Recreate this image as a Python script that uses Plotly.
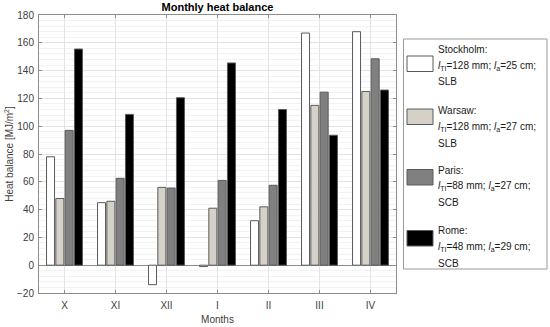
import plotly.graph_objects as go

# ---- data ----
months = ["X", "XI", "XII", "I", "II", "III", "IV"]
stockholm = [78, 45, -14, -1, 32, 167, 168]
warsaw = [48, 46, 56, 41, 42, 115, 125]
paris = [97, 62.5, 55.5, 61, 57.5, 124.5, 148.5]
rome = [155.5, 108.5, 120.5, 145.5, 112, 93.5, 126]

cities = ["Stockholm", "Warsaw", "Paris", "Rome"]
l_ti = [128, 128, 88, 48]
l_a = [25, 27, 27, 29]
bond = ["SLB", "SLB", "SCB", "SCB"]

series = [stockholm, warsaw, paris, rome]
colors = ["#ffffff", "#d5d1c8", "#808080", "#000000"]

FONT = "Liberation Sans, Arial, sans-serif"
W, H = 550, 327
L, R, T, B = 39, 396, 15, 293  # plot area in pixels


def px2x(px):
    return (px - L) / (R - L)


def py2y(py):
    return (B - py) / (B - T)


fig = go.Figure()
for name, vals, col in zip(cities, series, colors):
    fig.add_trace(go.Bar(
        x=months, y=vals, name=name, showlegend=False,
        marker=dict(color=col, line=dict(color="#5a5a5a", width=1)),
    ))

axis_common = dict(
    showline=True, linecolor="#8c8c8c", linewidth=1, mirror="ticks",
    ticks="inside", ticklen=3, tickcolor="#8c8c8c",
    tickfont=dict(family=FONT, size=10, color="#404040"),
    showgrid=True, gridcolor="#e3e3e3", gridwidth=1,
    automargin=False,
)

fig.update_xaxes(
    **axis_common,
    range=[-0.5, 6.5],
    ticklabelstandoff=3,
    title=dict(text="Months", font=dict(family=FONT, size=10, color="#404040"), standoff=5),
)
fig.update_yaxes(
    **axis_common,
    range=[-20, 180], dtick=20,
    ticklabelstandoff=2,
    zeroline=True, zerolinecolor="#8c8c8c", zerolinewidth=1,
    minor=dict(dtick=4, showgrid=True, gridcolor="#f2f2f2", gridwidth=1),
    title=dict(text="Heat balance [MJ/m<sup>2</sup>]",
               font=dict(family=FONT, size=10, color="#404040"), standoff=1),
)

shapes = []
annotations = []

# custom legend box
shapes.append(dict(type="rect", xref="paper", yref="paper",
                   x0=px2x(403.5), x1=px2x(547), y0=py2y(39), y1=py2y(269),
                   line=dict(color="#9a9a9a", width=1), fillcolor="white", layer="above"))

line1_y = [49, 110.5, 170, 230.5]
swatch_top = [56, 109, 169.5, 230.5]
for i, name in enumerate(cities):
    shapes.append(dict(type="rect", xref="paper", yref="paper",
                       x0=px2x(407), x1=px2x(433),
                       y0=py2y(swatch_top[i]), y1=py2y(swatch_top[i] + 15.5),
                       fillcolor=colors[i], line=dict(color="#5a5a5a", width=1),
                       layer="above"))
    lines = [
        f"{name}:",
        f"<i>l</i><sub>TI</sub>={l_ti[i]} mm; <i>l</i><sub>a</sub>={l_a[i]} cm;",
        bond[i],
    ]
    offs = [0, 16.5, 32.5]
    for txt, off in zip(lines, offs):
        annotations.append(dict(
            text=txt, xref="paper", yref="paper",
            x=px2x(435.5), y=py2y(line1_y[i] + off),
            xanchor="left", yanchor="middle", showarrow=False,
            font=dict(family=FONT, size=10, color="#1a1a1a"),
        ))

fig.update_layout(
    width=W, height=H,
    margin=dict(l=L, r=W - R, t=T, b=H - B, pad=0),
    paper_bgcolor="white", plot_bgcolor="white",
    barmode="group", bargap=0.27, bargroupgap=0.14,
    title=dict(text="<b>Monthly heat balance</b>", x=217.5 / W,
               xanchor="center", y=1 - 7.5 / H, yanchor="middle",
               font=dict(family=FONT, size=11, color="#000000")),
    shapes=shapes, annotations=annotations,
    showlegend=False,
)

fig.write_html("out.html", config={"displayModeBar": False},
               post_script="document.body.style.margin='0px';")
